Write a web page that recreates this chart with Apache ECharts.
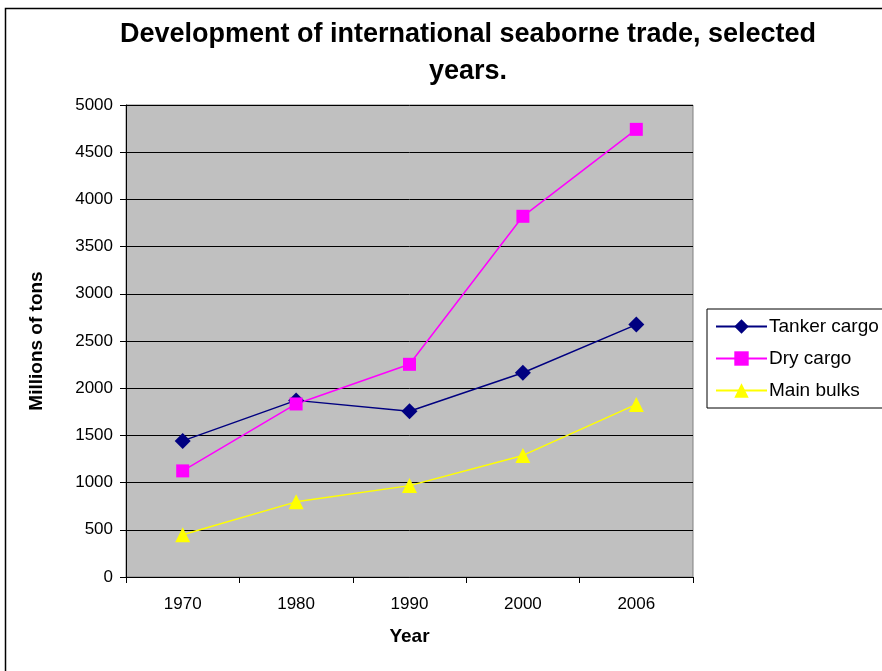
<!DOCTYPE html>
<html>
<head>
<meta charset="utf-8">
<script src="https://cdn.jsdelivr.net/npm/echarts@6/dist/echarts.min.js"></script>
<style>
  html, body { margin: 0; padding: 0; background: #fff; }
  #chart { width: 882px; height: 671px; }
</style>
</head>
<body>
<div id="chart"></div>
<script>
/* 数据 */
var years = ['1970', '1980', '1990', '2000', '2006']
var tankerCargo = [1442, 1871, 1755, 2163, 2674]
var dryCargo = [1124, 1833, 2253, 3821, 4742]
var mainBulks = [448, 796, 968, 1288, 1828]

var myChart = echarts.init(document.getElementById('chart'))
var font = 'Arial, "Liberation Sans", sans-serif'

const option = {
  animation: false,
  backgroundColor: '#fff',
  // 外框
  graphic: [{
    type: 'rect',
    shape: { x: 5.5, y: 8.5, width: 900, height: 700 },
    style: { fill: 'none', stroke: '#000', lineWidth: 1.5 },
    silent: true
  }],
  title: {
    text: 'Development of international seaborne trade, selected\nyears.',
    left: 463,
    top: 11,
    textAlign: 'center',
    textStyle: {
      fontFamily: font, fontSize: 27, fontWeight: 'bold', color: '#000', lineHeight: 37
    }
  },
  legend: {
    orient: 'vertical',
    left: 707,
    top: 309,
    itemWidth: 51,
    itemHeight: 18,
    itemGap: 13,
    padding: [8, 20, 8, 8],
    borderColor: '#000',
    borderWidth: 1,
    textStyle: { fontFamily: font, fontSize: 19, color: '#000', padding: [0, 0, 0, -3] },
    data: ['Tanker cargo', 'Dry cargo', 'Main bulks']
  },
  grid: {
    left: 126,
    right: 189,
    top: 105,
    bottom: 94,
    show: true,
    backgroundColor: '#C0C0C0',
    borderColor: '#808080',
    borderWidth: 1
  },
  xAxis: {
    type: 'category',
    data: years,
    boundaryGap: true,
    name: 'Year',
    nameLocation: 'middle',
    nameGap: 50,
    nameTextStyle: { fontFamily: font, fontSize: 19, fontWeight: 'bold', color: '#000' },
    axisLine: { lineStyle: { color: '#000', width: 1 } },
    axisTick: { show: true, length: 6, lineStyle: { color: '#000' } },
    axisLabel: { fontFamily: font, fontSize: 17, color: '#000', margin: 19 },
    splitLine: { show: false }
  },
  yAxis: {
    type: 'value',
    min: 0,
    max: 5000,
    interval: 500,
    name: 'Millions of tons',
    nameLocation: 'middle',
    nameGap: 80,
    nameTextStyle: { fontFamily: font, fontSize: 19, fontWeight: 'bold', color: '#000' },
    axisLine: { show: true, lineStyle: { color: '#000', width: 1 } },
    axisTick: { show: true, length: 6, inside: false, lineStyle: { color: '#000' } },
    axisLabel: {
      fontFamily: font, fontSize: 17, color: '#000', margin: 13,
      formatter: function (v) { return String(v) }
    },
    splitLine: { show: true, lineStyle: { color: '#000', width: 1 } }
  },
  series: [
    {
      name: 'Tanker cargo',
      type: 'line',
      data: tankerCargo,
      symbol: 'diamond',
      symbolSize: 16,
      itemStyle: { color: '#000080' },
      lineStyle: { color: '#000080', width: 1.5 }
    },
    {
      name: 'Dry cargo',
      type: 'line',
      data: dryCargo,
      symbol: 'rect',
      symbolSize: 13,
      itemStyle: { color: '#FF00FF' },
      lineStyle: { color: '#FF00FF', width: 1.5 }
    },
    {
      name: 'Main bulks',
      type: 'line',
      data: mainBulks,
      symbol: 'triangle',
      symbolSize: 15,
      itemStyle: { color: '#FFFF00' },
      lineStyle: { color: '#FFFF00', width: 1.5 }
    }
  ]
}
myChart.setOption(option)
</script>
</body>
</html>
